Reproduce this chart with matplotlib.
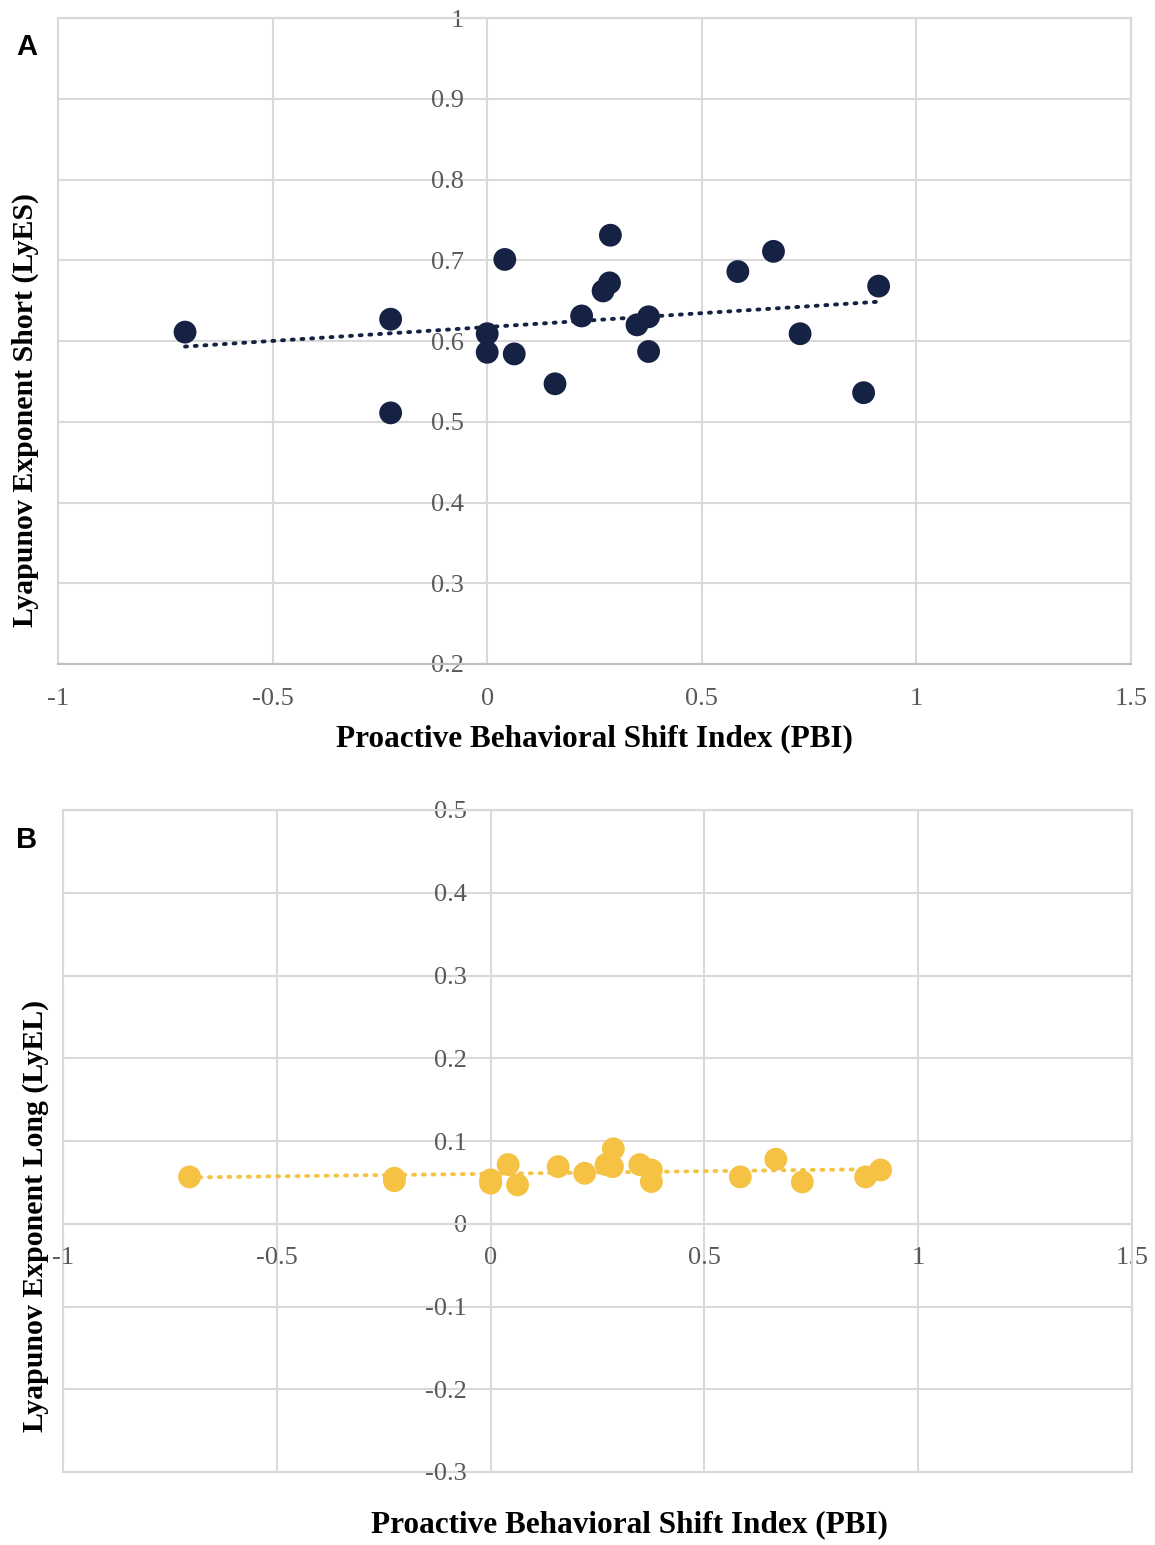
import numpy as np
import matplotlib
matplotlib.use("Agg")
import matplotlib.pyplot as plt

# PBI values (shared x)
pbi = [-0.704, -0.225, -0.225, 0.041, 0.0, 0.0, 0.063, 0.158, 0.22, 0.287,
       0.285, 0.27, 0.349, 0.376, 0.376, 0.584, 0.667, 0.729, 0.877, 0.912]
# Lyapunov exponent short (panel A)
lyes = [0.611, 0.627, 0.511, 0.701, 0.609, 0.586, 0.584, 0.547, 0.631, 0.731,
        0.672, 0.662, 0.620, 0.630, 0.587, 0.686, 0.711, 0.609, 0.536, 0.668]
# Lyapunov exponent long (panel B)
lyel = [0.0566, 0.055, 0.052, 0.0715, 0.053, 0.049, 0.047, 0.069, 0.061, 0.0905,
        0.069, 0.0715, 0.0715, 0.065, 0.051, 0.0566, 0.078, 0.0505, 0.0566, 0.065]

xticks = [-1, -0.5, 0, 0.5, 1, 1.5]
xtick_labels = ["-1", "-0.5", "0", "0.5", "1", "1.5"]
yticks_a = [0.2, 0.3, 0.4, 0.5, 0.6, 0.7, 0.8, 0.9, 1.0]
ytick_labels_a = ["0.2", "0.3", "0.4", "0.5", "0.6", "0.7", "0.8", "0.9", "1"]
yticks_b = [-0.3, -0.2, -0.1, 0, 0.1, 0.2, 0.3, 0.4, 0.5]
ytick_labels_b = ["-0.3", "-0.2", "-0.1", "0", "0.1", "0.2", "0.3", "0.4", "0.5"]

NAVY = "#152244"
GOLD = "#f5c243"
GRID = "#d9d9d9"
TICKC = "#595959"
SERIF = ["Liberation Serif", "DejaVu Serif"]

W, H = 1155, 1545
fig = plt.figure(figsize=(W / 100, H / 100), dpi=100)

def px_axes(l, t, r, b):
    return fig.add_axes([l / W, 1 - b / H, (r - l) / W, (b - t) / H])

axA = px_axes(58, 18, 1131, 664)
axB = px_axes(63, 810, 1132, 1472)

def style(ax, yticks, ylabels, ylim, xspine_at_zero):
    ax.set_xlim(-1, 1.5)
    ax.set_ylim(*ylim)
    ax.set_xticks(xticks)
    ax.set_xticklabels(xtick_labels)
    ax.set_yticks(yticks)
    ax.set_yticklabels(ylabels)
    ax.grid(True, color=GRID, linewidth=1.5, zorder=0)
    ax.set_axisbelow(True)
    for s in ["top", "right"]:
        ax.spines[s].set_color(GRID)
        ax.spines[s].set_linewidth(1.5)
    ax.spines["left"].set_position(("data", 0))
    ax.spines["left"].set_visible(False)
    # outer frame
    ax.patch.set_edgecolor(GRID)
    ax.patch.set_linewidth(1.5)
    if xspine_at_zero:
        ax.spines["bottom"].set_position(("data", 0))
        ax.spines["bottom"].set_color(GRID)
        ax.spines["bottom"].set_linewidth(1.5)
    else:
        ax.spines["bottom"].set_color("#bfbfbf")
        ax.spines["bottom"].set_linewidth(1.5)
    ax.tick_params(axis="both", length=0, labelsize=19, labelcolor=TICKC)
    ax.tick_params(axis="y", pad=17)
    ax.tick_params(axis="x", pad=17)
    for lab in ax.get_xticklabels() + ax.get_yticklabels():
        lab.set_family(SERIF)

style(axA, yticks_a, ytick_labels_a, (0.2, 1.0), False)
style(axB, yticks_b, ytick_labels_b, (-0.3, 0.5), True)

x = np.array(pbi)
for ax, yv, col in [(axA, lyes, NAVY), (axB, lyel, GOLD)]:
    y = np.array(yv)
    ax.scatter(x, y, s=270, color=col, zorder=3, edgecolors="none")
    m, c = np.polyfit(x, y, 1)
    xs = np.array([x.min(), x.max()])
    ax.plot(xs, m * xs + c, linestyle=(0, (0.5, 2.0)), color=col, linewidth=2.8,
            dash_capstyle="round", zorder=2)

xlab_font = dict(family=SERIF, fontsize=22.5, fontweight="bold")
ylab_font = dict(family=SERIF, fontsize=21.5, fontweight="bold")
axA.set_xlabel("Proactive Behavioral Shift Index (PBI)", **xlab_font)
axA.xaxis.set_label_coords(0.50, -0.116)
axA.set_ylabel("Lyapunov Exponent Short (LyES)", **ylab_font)
axA.yaxis.set_label_coords(-0.030, 0.393)
axB.set_xlabel("Proactive Behavioral Shift Index (PBI)", **xlab_font)
axB.xaxis.set_label_coords(0.53, -0.080)
axB.set_ylabel("Lyapunov Exponent Long (LyEL)", **ylab_font)
axB.yaxis.set_label_coords(-0.026, 0.387)
for ax in (axA, axB):
    ax.xaxis.label.set_va("center")
    ax.yaxis.label.set_va("center")

fig.text(27 / W, 1 - 47 / H, "A", fontsize=21, fontweight="bold",
         family=["Liberation Sans", "DejaVu Sans"], ha="center", va="center")
fig.text(27 / W, 1 - 840 / H, "B", fontsize=21, fontweight="bold",
         family=["Liberation Sans", "DejaVu Sans"], ha="center", va="center")

fig.savefig("out.png", dpi=100, facecolor="white")
